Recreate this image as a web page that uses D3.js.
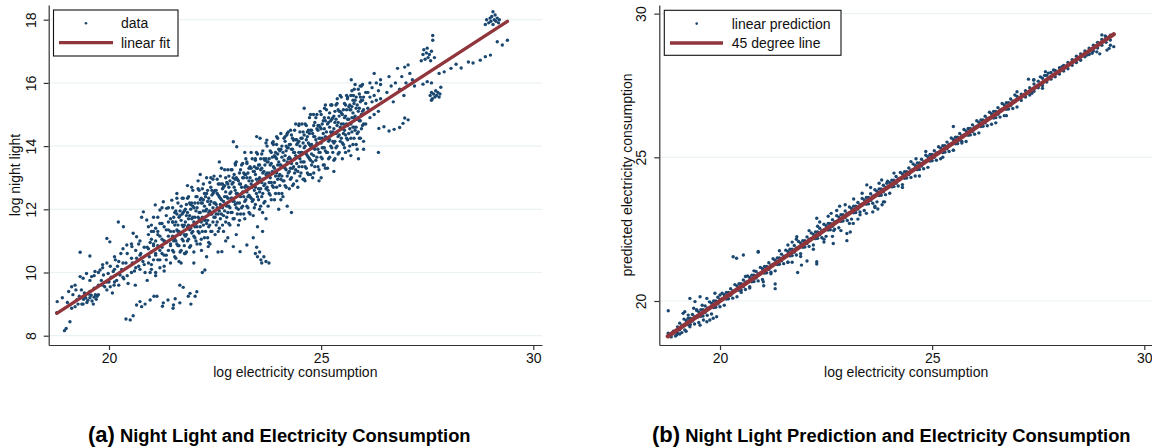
<!DOCTYPE html>
<html><head><meta charset="utf-8">
<script src="https://cdn.jsdelivr.net/npm/d3@7"></script>
<style>
body{margin:0;background:#fff;}
svg{display:block;font-family:"Liberation Sans",Arial,Helvetica,sans-serif;}
</style></head><body>
<svg id="c" width="1152" height="447"></svg>
<script>
// ---------------- DATA ----------------
const xTicks = [20, 25, 30];
const leftYTicks = [8, 10, 12, 14, 16, 18];
const rightYTicks = [20, 25, 30];

// panel (a): individual observations (log electricity, log night light)
const leftPoints = [
[18.78,9.08],[18.77,8.73],[18.95,8.16],[18.99,8.23],[19.08,8.44],[19.12,8.87],[19.2,8.92],[19.27,9.0],[19.36,9.0],[19.39,9.0],[18.9,9.2],[19.02,9.05],[19.15,9.3],[19.25,9.15],[19.3,9.25],[19.12,9.55],[19.2,9.6],[19.32,9.87],[19.39,9.82],[19.32,10.64],[19.45,9.2],[19.42,9.35],[19.35,9.45],[19.05,9.4],[19.48,9.05],[19.4,9.15],[19.22,9.45],
[19.5,9.12],[19.55,9.2],[19.6,9.1],[19.63,9.0],[19.58,9.28],[19.65,9.22],[19.7,9.15],[19.68,9.3],[19.52,9.32],[19.72,9.25],
[19.47,9.97],[19.59,9.87],[19.67,10.03],[19.79,10.08],[19.87,9.92],[19.98,9.97],[20.1,10.03],[20.26,9.92],[19.55,10.52],[19.95,11.08],[20.02,10.97],[19.75,9.6],[19.82,9.75],[19.9,9.55],[20.0,9.7],[20.05,9.85],[20.12,9.6],[20.18,9.75],[20.2,10.2],[20.3,10.1],[20.35,9.8],[20.4,10.3],[20.45,9.65],[19.85,10.25],[20.15,10.4],[20.22,11.6],[20.34,11.45],[20.42,10.87],[20.28,10.6],[19.95,9.45],[20.08,9.35],[20.4,8.53],[20.5,8.5],[20.57,8.63],
[20.54,10.82],[20.65,11.13],[20.57,11.24],[20.81,11.92],[20.77,11.75],[20.89,11.66],[20.93,11.45],[21.09,12.14],[21.2,11.98],[21.28,12.24],[21.36,12.03],[21.48,12.29],
[20.55,10.3],[20.6,10.05],[20.65,10.45],[20.7,10.2],[20.75,10.6],[20.8,10.35],[20.85,10.0],[20.9,10.8],[20.95,10.5],[21.0,10.25],[21.05,10.9],[21.1,10.6],[21.15,11.2],[21.2,10.4],[21.25,10.8],[21.3,11.0],[21.35,10.55],[21.4,11.35],[21.45,10.9],[21.5,11.6],[20.7,10.9],[21.0,11.3],[21.1,9.9],[21.3,10.2],[20.62,9.6],[20.9,9.75],
[20.65,8.97],[20.73,9.08],[20.77,8.92],[20.85,9.0],[20.97,9.13],[21.06,9.25],[21.13,9.25],[21.26,8.93],[21.28,9.04],[21.39,9.13],[21.51,8.87],[21.52,8.97],[21.67,9.04],[21.93,9.0],[21.87,9.25],[22.03,9.25],[21.75,9.53],[21.56,9.17],[21.67,9.6],[21.91,9.34],[22.07,9.39],[22.26,10.08],[22.2,10.0],[22.57,10.65],
[21.6,12.5],[21.85,12.75],[22.0,10.3],[22.15,13.1],[22.3,10.5],[22.34,10.82],[22.4,13.0],[21.7,10.3],[22.1,12.9],[21.78,10.6],[22.18,10.7],[22.38,10.9],
[22.66,10.66],[22.93,10.82],[22.93,14.14],[22.98,13.4],[23.01,13.98],[23.09,10.66],[23.25,10.87],[23.25,13.5],[23.45,13.6],[22.6,13.5],[22.75,11.0],[23.0,11.2],[23.2,13.8],[22.8,11.1],
[23.4,11.1],[23.48,10.8],[23.5,10.5],[23.58,10.4],[23.6,10.3],[23.7,10.35],[23.65,10.5],[23.77,10.3],[23.45,10.6],[23.55,10.65],[23.62,11.3],[23.5,11.45],
[23.48,14.3],[23.56,14.25],[23.72,14.19],[23.87,14.14],[23.95,14.3],[24.15,14.3],[24.19,14.35],[24.28,14.5],[24.35,14.19],[24.48,14.7],[23.7,11.7],[24.0,12.0],[24.3,11.9],[24.2,12.1],[24.05,12.3],[23.62,11.9],
[24.6,15.2],[24.82,15.0],[25.08,15.2],[25.25,15.3],[25.38,15.5],[24.62,12.9],[24.95,12.9],[25.0,13.0],[25.3,13.2],[24.75,13.1],[25.1,13.3],
[25.62,15.5],[25.71,16.1],[25.76,15.6],[25.78,15.8],[25.92,15.9],[26.05,15.7],[26.15,16.0],[26.25,16.3],[26.4,16.1],[25.88,13.6],[25.7,13.7],[26.0,13.9],[26.35,13.8],[26.36,14.56],[26.48,14.61],
[26.6,16.2],[26.8,16.46],[26.97,16.5],[27.05,16.57],[27.09,16.3],[26.55,15.7],[26.65,15.9],[26.7,15.4],[26.75,16.0],[26.85,15.8],[26.9,16.2],[26.95,15.6],[27.0,16.0],[26.6,14.48],[26.72,14.53],[26.85,14.59],[26.93,14.72],[26.97,14.89],[27.05,14.83],[27.15,16.1],[27.2,15.9],
[27.36,16.7],[27.4,16.9],[27.42,17.05],[27.45,16.75],[27.48,16.95],[27.5,17.1],[27.52,16.8],[27.55,16.9],[27.58,16.7],[27.6,17.0],[27.63,17.5],[27.63,17.35],[27.67,16.8],[27.4,15.96],[27.5,16.04],[27.6,16.0],
[27.57,15.6],[27.6,15.7],[27.62,15.5],[27.65,15.65],[27.68,15.55],[27.7,15.75],[27.72,15.6],[27.75,15.7],[27.78,15.55],[27.8,15.65],[27.82,15.86],[27.6,15.45],
[27.78,16.3],[27.9,16.35],[28.06,16.46],[28.18,16.59],[28.3,16.47],[28.47,16.66],[28.58,16.63],[28.75,16.72],[28.87,16.83],[28.99,16.88],[29.15,17.3],[29.27,17.2],[29.39,17.35],
[28.87,17.85],[28.9,18.0],[28.95,17.9],[28.98,18.05],[29.0,17.95],[29.02,18.1],[29.05,17.85],[29.08,18.0],[29.1,18.15],[29.12,17.95],[29.15,18.05],[29.18,17.9],[29.05,18.25],[29.2,18.0]
];
// panel (a): dense core of the cloud, observations grouped by log electricity value
const leftCore = [
[19.55,[9.4,9.75]],[19.65,[9.5,9.9]],[19.75,[9.3,10.0]],[19.85,[9.6,10.15]],[19.95,[9.7,10.3]],
[20.03,[9.55,10.2]],[20.13,[9.7,10.1,10.5]],[20.23,[9.6,10.35]],[20.33,[9.85,10.3,10.75]],[20.43,[9.9,10.6]],[20.53,[10.0,10.45,10.9]],[20.63,[10.15,10.7]],[20.73,[10.1,10.55,11.0]],[20.83,[10.25,10.8]],[20.93,[10.3,10.75,11.2]],[20.97,[10.0,10.95]],
[21.00,[10.1,10.65,11.05,11.5]],[21.05,[10.4,10.85,11.3,11.75]],[21.10,[10.0,10.55,11.0,11.4]],[21.15,[10.4,10.85,11.3,11.75]],[21.20,[10.15,10.7,11.15,11.55]],[21.25,[10.6,11.05,11.55,12.05]],[21.30,[10.05,10.55,11.0,11.45]],[21.35,[10.4,10.95,11.35,11.8]],[21.40,[10.7,11.15,11.6,12.05]],[21.45,[10.3,10.85,11.3,11.7]],
[21.50,[10.7,11.15,11.6,12.05]],[21.55,[10.5,11.05,11.5,11.9]],[21.60,[10.9,11.35,11.85,12.35]],[21.65,[10.35,10.85,11.3,11.75]],[21.70,[10.7,11.25,11.65,12.1]],[21.75,[11.0,11.45,11.9,12.35]],[21.80,[10.6,11.15,11.6,12.0]],[21.85,[11.0,11.45,11.9,12.35]],[21.90,[10.8,11.35,11.8,12.2]],[21.95,[11.25,11.7,12.2,12.7]],
[22.00,[10.65,11.15,11.6,12.05]],[22.05,[11.0,11.55,11.95,12.4]],[22.10,[11.3,11.75,12.2,12.65]],[22.15,[10.9,11.45,11.9,12.3]],[22.20,[11.3,11.75,12.2,12.65]],[22.25,[11.1,11.65,12.1,12.5]],[22.30,[11.55,12.0,12.5,13.0]],[22.35,[10.95,11.45,11.9,12.35]],[22.40,[11.3,11.85,12.25,12.7]],[22.45,[11.6,12.05,12.5,12.95]],
[22.50,[11.2,11.75,12.2,12.6]],[22.55,[11.6,12.05,12.5,12.95]],[22.60,[11.4,11.95,12.4,12.8]],[22.65,[11.85,12.3,12.8,13.3]],[22.70,[11.3,11.8,12.25,12.7]],[22.75,[11.6,12.15,12.55,13.0]],[22.80,[11.9,12.35,12.8,13.25]],[22.85,[11.5,12.05,12.5,12.9]],[22.90,[11.9,12.35,12.8,13.25]],[22.95,[11.7,12.25,12.7,13.1]],
[23.00,[12.05,12.5,13.0,13.5]],[23.05,[11.5,12.0,12.45,12.9]],[23.10,[11.85,12.4,12.8,13.25]],[23.15,[12.1,12.55,13.0,13.45]],[23.20,[11.7,12.25,12.7,13.1]],[23.25,[12.1,12.55,13.0,13.45]],[23.30,[11.9,12.45,12.9,13.3]],[23.35,[12.35,12.8,13.3,13.8]],[23.40,[11.8,12.3,12.75,13.2]],[23.45,[12.15,12.7,13.1,13.55]],
[23.50,[12.4,12.85,13.3,13.75]],[23.55,[12.0,12.55,13.0,13.4]],[23.60,[12.4,12.85,13.3,13.75]],[23.65,[12.2,12.75,13.2,13.6]],[23.70,[12.65,13.1,13.6,14.1]],[23.75,[12.1,12.6,13.05,13.5]],[23.80,[12.45,13.0,13.4,13.85]],[23.85,[12.75,13.2,13.65,14.1]],[23.90,[12.3,12.85,13.3,13.7]],[23.95,[12.7,13.15,13.6,14.05]],
[24.00,[12.5,13.05,13.5,13.9]],[24.05,[12.95,13.4,13.9,14.4]],[24.10,[12.4,12.9,13.35,13.8]],[24.15,[12.75,13.3,13.7,14.15]],[24.20,[13.05,13.5,13.95,14.4]],[24.25,[12.65,13.2,13.65,14.05]],[24.30,[13.0,13.45,13.9,14.35]],[24.35,[12.8,13.35,13.8,14.2]],[24.40,[13.25,13.7,14.2,14.7]],[24.45,[12.7,13.2,13.65,14.1]],
[24.50,[13.05,13.6,14.0,14.45]],[24.55,[13.35,13.8,14.25,14.7]],[24.60,[12.95,13.5,13.95,14.35]],[24.65,[13.3,13.75,14.2,14.65]],[24.70,[13.1,13.65,14.1,14.5]],[24.75,[13.55,14.0,14.5,15.0]],[24.80,[13.0,13.5,13.95,14.4]],[24.85,[13.35,13.9,14.3,14.75]],[24.90,[13.65,14.1,14.55,15.0]],[24.95,[13.25,13.8,14.25,14.65]],
[25.00,[13.65,14.1,14.55,15.0]],[25.05,[13.4,13.95,14.4,14.8]],[25.10,[13.85,14.3,14.8,15.3]],[25.15,[13.3,13.8,14.25,14.7]],[25.20,[13.65,14.2,14.6,15.05]],[25.25,[13.95,14.4,14.85,15.3]],[25.30,[13.55,14.1,14.55,14.95]],[25.35,[13.95,14.4,14.85,15.3]],[25.40,[13.75,14.3,14.75,15.15]],[25.45,[14.15,14.6,15.1,15.6]],
[25.50,[13.6,14.1,14.55,15.0]],[25.55,[13.95,14.5,14.9,15.35]],[25.60,[14.25,14.7,15.15,15.6]],[25.65,[13.85,14.4,14.85,15.25]],[25.70,[14.25,14.7,15.15,15.6]],[25.75,[14.05,14.6,15.05,15.45]],[25.80,[14.5,14.95,15.45,15.95]],[25.85,[13.9,14.4,14.85,15.3]],[25.90,[14.25,14.8,15.2,15.65]],[25.95,[14.55,15.0,15.45,15.9]],
[26.00,[14.15,14.7,15.15,15.55]],[26.05,[14.7,15.35]],[26.10,[15.2,15.7]],[26.15,[14.9,15.55]],[26.20,[15.4,15.85]],[26.25,[15.0,15.6]],[26.30,[15.45,16.0]],[26.35,[15.1,15.75]],[26.40,[15.5,15.95]]
];
// panel (a): more core observations, between the columns above
const leftCore2 = [
[21.525,[10.65,11.0,11.3,11.75]],[21.575,[10.45,11.0,11.6,11.95]],[21.625,[10.85,11.3,11.5,12.2]],[21.675,[10.65,11.2,11.8,11.95]],[21.725,[11.05,11.5,11.85,12.35]],
[21.775,[10.85,11.2,11.5,11.95]],[21.825,[10.65,11.2,11.8,12.15]],[21.875,[11.05,11.5,11.7,12.4]],[21.925,[10.85,11.4,12.0,12.15]],[21.975,[11.3,11.75,12.1,12.6]],
[22.025,[11.1,11.45,11.75,12.2]],[22.075,[10.9,11.45,12.05,12.4]],[22.125,[11.25,11.7,11.9,12.6]],[22.175,[11.05,11.6,12.2,12.35]],[22.225,[11.5,11.95,12.3,12.8]],
[22.275,[11.3,11.65,11.95,12.4]],[22.325,[11.1,11.65,12.25,12.6]],[22.375,[11.5,11.95,12.15,12.85]],[22.425,[11.3,11.85,12.45,12.6]],[22.475,[11.75,12.2,12.55,13.05]],
[22.525,[11.5,11.85,12.15,12.6]],[22.575,[11.3,11.85,12.45,12.8]],[22.625,[11.7,12.15,12.35,13.05]],[22.675,[11.5,12.05,12.65,12.8]],[22.725,[11.95,12.4,12.75,13.25]],
[22.775,[11.75,12.1,12.4,12.85]],[22.825,[11.55,12.1,12.7,13.05]],[22.875,[11.9,12.35,12.55,13.25]],[22.925,[11.7,12.25,12.85,13.0]],[22.975,[12.15,12.6,12.95,13.45]],
[23.025,[11.85,12.2,12.5,12.95]],[23.075,[11.65,12.2,12.8,13.15]],[23.125,[12.05,12.5,12.7,13.4]],[23.175,[11.85,12.4,13.0,13.15]],[23.225,[12.3,12.75,13.1,13.6]],
[23.275,[12.05,12.4,12.7,13.15]],[23.325,[11.85,12.4,13.0,13.35]],[23.375,[12.25,12.7,12.9,13.6]],[23.425,[12.05,12.6,13.2,13.35]],[23.475,[12.5,12.95,13.3,13.8]],
[23.525,[12.3,12.65,12.95,13.4]],[23.575,[12.1,12.65,13.25,13.6]],[23.625,[12.5,12.95,13.15,13.85]],[23.675,[12.25,12.8,13.4,13.55]],[23.725,[12.7,13.15,13.5,14.0]],
[23.775,[12.5,12.85,13.15,13.6]],[23.825,[12.3,12.85,13.45,13.8]],[23.875,[12.7,13.15,13.35,14.05]],[23.925,[12.5,13.05,13.65,13.8]],[23.975,[12.95,13.4,13.75,14.25]],
[24.025,[12.75,13.1,13.4,13.85]],[24.075,[12.5,13.05,13.65,14.0]],[24.125,[12.9,13.35,13.55,14.25]],[24.175,[12.7,13.25,13.85,14.0]],[24.225,[13.15,13.6,13.95,14.45]],
[24.275,[12.95,13.3,13.6,14.05]],[24.325,[12.75,13.3,13.9,14.25]],[24.375,[13.15,13.6,13.8,14.5]],[24.425,[12.9,13.45,14.05,14.2]],[24.475,[13.35,13.8,14.15,14.65]],
[24.525,[13.15,13.5,13.8,14.25]],[24.575,[12.95,13.5,14.1,14.45]],[24.625,[13.35,13.8,14.0,14.7]],[24.675,[13.15,13.7,14.3,14.45]],[24.725,[13.6,14.05,14.4,14.9]],
[24.775,[13.4,13.75,14.05,14.5]],[24.825,[13.15,13.7,14.3,14.65]],[24.875,[13.55,14.0,14.2,14.9]],[24.925,[13.35,13.9,14.5,14.65]],[24.975,[13.8,14.25,14.6,15.1]],
[25.025,[13.6,13.95,14.25,14.7]],[25.075,[13.4,13.95,14.55,14.9]],[25.125,[13.8,14.25,14.45,15.15]],[25.175,[13.6,14.15,14.75,14.9]],[25.225,[14.0,14.45,14.8,15.3]],
[25.275,[13.8,14.15,14.45,14.9]],[25.325,[13.6,14.15,14.75,15.1]],[25.375,[14.0,14.45,14.65,15.35]],[25.425,[13.8,14.35,14.95,15.1]],[25.475,[14.25,14.7,15.05,15.55]],
[25.525,[14.05,14.4,14.7,15.15]],[25.575,[13.8,14.35,14.95,15.3]],[25.625,[14.2,14.65,14.85,15.55]],[25.675,[14.0,14.55,15.15,15.3]],[25.725,[14.45,14.9,15.25,15.75]],
[25.775,[14.25,14.6,14.9,15.35]],[25.825,[14.05,14.6,15.2,15.55]],[25.875,[14.45,14.9,15.1,15.8]],[25.925,[14.25,14.8,15.4,15.55]],[25.975,[14.65,15.1,15.45,15.95]]
];
// linear fit endpoints (x, y)
const fitX = [18.77, 29.39];
const fitY = [8.71, 17.95];

// panel (b): individual observations (log electricity, predicted)
const rightPoints = [
[18.78,19.66],[18.78,18.88],[18.82,18.82],[18.98,18.82],[18.85,18.75],[18.9,18.95],[19.06,19.05],[19.17,18.99],[19.29,19.1],[19.13,19.57],[19.17,19.63],[19.25,19.51],[19.05,18.85],[18.95,18.78],
[19.29,20.09],[19.41,19.98],[19.53,20.15],[19.69,20.09],[19.88,20.27],[20.0,20.21],[19.92,19.92],[19.53,19.16],[19.61,19.34],[19.69,19.28],[19.76,19.34],[19.84,19.4],[19.92,19.45],[19.49,19.45],[19.58,19.85],[19.45,19.7],[19.38,19.75],
[20.31,21.54],[20.39,21.49],[20.55,21.6],[20.9,21.72],[20.5,20.3],[20.7,20.5],[20.8,21.05],[20.6,20.85],[20.9,21.7],
[21.02,20.67],[21.03,20.53],[21.3,20.59],[21.3,20.43],[21.83,20.99],[21.92,21.25],[21.4,21.75],[21.6,21.35],[21.2,20.95],[21.7,22.05],[21.81,22.24],
[22.05,21.39],[22.28,21.29],[22.28,21.37],[22.28,22.88],[22.67,22.0],[22.99,22.1],[22.99,22.35],[22.62,23.05],[22.82,23.3],[22.3,22.6],[22.45,22.15],[22.68,22.45],
[23.07,22.4],[23.14,22.7],[23.46,24.04],[23.81,24.21],[23.93,24.1],[23.6,23.1],[23.88,23.45],[23.3,23.0],[23.72,23.2],[23.82,23.35],[23.65,23.3],
[22.1,22.45],[22.2,21.8],[22.35,22.75],[22.45,22.05],[22.55,22.95],[22.65,22.25],[22.75,23.15],[22.85,22.45],[22.95,23.35],[23.05,22.7],[23.15,23.55],[23.25,22.85],[23.35,23.75],[23.45,23.05],[23.55,23.95],[23.65,23.25],[23.75,24.1],[23.85,23.45],[21.6,21.95],[21.7,21.35],[21.8,22.15],[21.9,21.55],[24.1,24.45],[24.3,23.95],[24.5,24.85],[24.7,24.35],
[24.62,24.95],[24.85,25.2],[25.5,26.07],[25.5,25.25],[25.7,25.55],[25.25,25.0],[27.0,27.28],[26.5,26.2],[26.75,26.45],
[27.27,27.72],[27.39,27.69],[27.35,27.23],[27.67,27.98],[27.74,27.93],[27.86,28.04],[28.06,28.15],[27.4,27.7],[27.6,27.4],[27.55,27.8],[27.65,27.85],
[28.65,28.56],[28.77,28.62],[28.88,28.67],[29.0,29.26],[29.08,29.22],[29.12,28.73],[29.17,28.79],[29.28,28.85],[29.2,28.9],[28.95,28.6]
];
// panel (b): dense band along the diagonal, [log electricity, predicted, predicted]
const rightBand = [
[19.00,18.88,19.10],[19.05,19.00,19.23],[19.10,18.90,19.15],[19.15,19.17,19.37],[19.20,18.95,19.32],[19.25,19.17,19.40],[19.30,19.18,19.40],[19.35,19.30,19.53],[19.40,19.20,19.45],[19.45,19.47,19.67],
[19.50,19.25,19.62],[19.55,19.47,19.70],[19.60,19.48,19.70],[19.65,19.60,19.83],[19.70,19.50,19.75],[19.75,19.77,19.97],[19.80,19.55,19.92],[19.85,19.77,20.00],[19.90,19.78,20.00],[19.95,19.90,20.13],
[20.00,19.80,20.05],[20.05,20.07,20.27],[20.10,19.85,20.22],[20.15,20.07,20.30],[20.20,20.08,20.30],[20.25,20.20,20.43],[20.30,20.10,20.35],[20.35,20.37,20.57],[20.40,20.15,20.52],[20.45,20.37,20.60],
[20.50,20.38,20.60],[20.55,20.50,20.73],[20.60,20.40,20.65],[20.65,20.67,20.87],[20.70,20.45,20.82],[20.75,20.67,20.90],[20.80,20.68,20.90],[20.85,20.80,21.03],[20.90,20.70,20.95],[20.95,20.97,21.17],
[21.00,20.75,21.12],[21.05,20.97,21.20],[21.10,20.98,21.20],[21.15,21.10,21.33],[21.20,21.00,21.25],[21.25,21.27,21.47],[21.30,21.05,21.42],[21.35,21.27,21.50],[21.40,21.28,21.50],[21.45,21.40,21.63],
[21.50,21.30,21.55],[21.55,21.57,21.77],[21.60,21.35,21.72],[21.65,21.57,21.80],[21.70,21.58,21.80],[21.75,21.70,21.93],[21.80,21.60,21.85],[21.85,21.87,22.07],[21.90,21.65,22.02],[21.95,21.87,22.10],
[22.00,21.88,22.10],[22.05,22.00,22.23],[22.10,21.90,22.15],[22.15,22.17,22.37],[22.20,21.95,22.32],[22.25,22.17,22.40],[22.30,22.18,22.40],[22.35,22.30,22.53],[22.40,22.20,22.45],[22.45,22.47,22.67],
[22.50,22.25,22.62],[22.55,22.47,22.70],[22.60,22.48,22.70],[22.65,22.60,22.83],[22.70,22.50,22.75],[22.75,22.77,22.97],[22.80,22.55,22.92],[22.85,22.77,23.00],[22.90,22.78,23.00],[22.95,22.90,23.13],
[23.00,22.80,23.05],[23.05,23.07,23.27],[23.10,22.85,23.22],[23.15,23.07,23.30],[23.20,23.08,23.30],[23.25,23.20,23.43],[23.30,23.10,23.35],[23.35,23.37,23.57],[23.40,23.15,23.52],[23.45,23.37,23.60],
[23.50,23.38,23.60],[23.55,23.50,23.73],[23.60,23.40,23.65],[23.65,23.67,23.87],[23.70,23.45,23.82],[23.75,23.67,23.90],[23.80,23.68,23.90],[23.85,23.80,24.03],[23.90,23.70,23.95],[23.95,23.97,24.17],
[24.00,23.75,24.12],[24.05,23.97,24.20],[24.10,23.98,24.20],[24.15,24.10,24.33],[24.20,24.00,24.25],[24.25,24.27,24.47],[24.30,24.05,24.42],[24.35,24.27,24.50],[24.40,24.28,24.50],[24.45,24.40,24.63],
[24.50,24.30,24.55],[24.55,24.57,24.77],[24.60,24.35,24.72],[24.65,24.57,24.80],[24.70,24.58,24.80],[24.75,24.70,24.93],[24.80,24.60,24.85],[24.85,24.87,25.07],[24.90,24.65,25.02],[24.95,24.87,25.10],
[25.00,24.88,25.10],[25.05,25.00,25.23],[25.10,24.90,25.15],[25.15,25.17,25.37],[25.20,24.95,25.32],[25.25,25.17,25.40],[25.30,25.18,25.40],[25.35,25.30,25.53],[25.40,25.20,25.45],[25.45,25.47,25.67],
[25.50,25.25,25.62],[25.55,25.47,25.70],[25.60,25.48,25.70],[25.65,25.60,25.83],[25.70,25.50,25.75],[25.75,25.77,25.97],[25.80,25.55,25.92],[25.85,25.77,26.00],[25.90,25.78,26.00],[25.95,25.90,26.13],
[26.00,25.80,26.05],[26.05,26.07,26.27],[26.10,25.85,26.22],[26.15,26.07,26.30],[26.20,26.08,26.30],[26.25,26.20,26.43],[26.30,26.10,26.35],[26.35,26.37,26.57],[26.40,26.15,26.52],[26.45,26.37,26.60],
[26.50,26.38,26.60],[26.55,26.50,26.73],[26.60,26.40,26.65],[26.65,26.67,26.87],[26.70,26.45,26.82],[26.75,26.67,26.90],[26.80,26.68,26.90],[26.85,26.80,27.03],[26.90,26.70,26.95],[26.95,26.97,27.17],
[27.00,26.75,27.12],[27.10,26.98,27.20],[27.20,27.10,27.32],[27.30,27.17,27.42],[27.40,27.30,27.55],[27.50,27.42,27.65],[27.60,27.50,27.75],[27.70,27.62,27.85],[27.80,27.72,27.95],[27.90,27.80,28.02],
[28.00,27.90,28.12],[28.10,28.00,28.20],[28.20,28.08,28.30],[28.30,28.20,28.40],[28.40,28.30,28.52],[28.50,28.38,28.60],[28.60,28.50,28.70],[28.70,28.58,28.80],[28.80,28.70,28.90],[28.90,28.80,29.00],
[29.00,28.90,29.10],[29.10,29.00,29.18],[29.20,29.08,29.25]
];
// 45 degree line endpoints
const diagX = [18.77, 29.28];
const diagY = [18.77, 29.28];

// assemble point tables from the arrays above
const expandCols = cols => cols.flatMap(([xv, ys]) => ys.map(yv => [xv, yv]));
const leftAll = leftPoints.concat(expandCols(leftCore), expandCols(leftCore2));
const rightAll = rightPoints.concat(rightBand.flatMap(([xv, a, b]) => [[xv, a], [xv, b]]));

// ---------------- DRAW ----------------
const svg = d3.select("#c");
const DOT = "#1a476f", LINE = "#90353b", GRID = "#eaf2f3", AXIS = "#333";

function panel(cfg) {
  const g = svg.append("g");
  const x = d3.scaleLinear().domain(cfg.xDomain).range(cfg.xRange);
  const y = d3.scaleLinear().domain(cfg.yDomain).range(cfg.yRange);
  const left = cfg.xRange[0], right = cfg.xRange[1], bottom = cfg.yRange[0], top = cfg.yRange[1];

  g.append("g").selectAll("line").data(cfg.yTicks).join("line")
    .attr("x1", left).attr("x2", right)
    .attr("y1", d => y(d)).attr("y2", d => y(d))
    .attr("stroke", GRID).attr("stroke-width", 1.2);

  g.append("g").selectAll("circle").data(cfg.points).join("circle")
    .attr("cx", d => x(d[0])).attr("cy", d => y(d[1]))
    .attr("r", 1.7).attr("fill", DOT);

  const lineData = cfg.lineX.map((v, i) => [v, cfg.lineY[i]]);
  g.append("path").datum(lineData)
    .attr("d", d3.line().x(d => x(d[0])).y(d => y(d[1])))
    .attr("fill", "none").attr("stroke", LINE)
    .attr("stroke-width", cfg.lineW).attr("stroke-linecap", "round");

  const xa = g.append("g").attr("transform", `translate(0,${bottom})`)
    .call(d3.axisBottom(x).tickValues(xTicks).tickSize(5).tickSizeOuter(0).tickPadding(3));
  const ya = g.append("g").attr("transform", `translate(${left},0)`)
    .call(d3.axisLeft(y).tickValues(cfg.yTicks).tickSize(5).tickSizeOuter(0));
  [xa, ya].forEach(a => {
    a.attr("font-family", null).attr("font-size", null);
    a.select(".domain").attr("stroke", AXIS).attr("stroke-width", 1.2);
    a.selectAll(".tick line").attr("stroke", AXIS).attr("stroke-width", 1.2);
    a.selectAll(".tick text").attr("fill", "#111").style("font-size", "14px");
  });
  ya.selectAll(".tick text")
    .attr("x", null).attr("dy", "0.36em").attr("text-anchor", "middle")
    .attr("transform", `translate(${cfg.yLabelOffset},0) rotate(-90)`);

  g.append("text").attr("x", (left + cfg.titleRight) / 2).attr("y", 377)
    .attr("text-anchor", "middle").style("font-size", "14px").attr("fill", "#111")
    .text(cfg.xTitle);
  g.append("text").attr("transform", `translate(${cfg.yTitleX},${(top + bottom) / 2}) rotate(-90)`)
    .attr("dy", "0.3em").attr("text-anchor", "middle").style("font-size", "14px").attr("fill", "#111")
    .text(cfg.yTitle);

  const L = cfg.legend;
  g.append("rect").attr("x", L.x).attr("y", L.y).attr("width", L.w).attr("height", L.h)
    .attr("fill", "#fff").attr("stroke", "#111").attr("stroke-width", 1.1);
  g.append("circle").attr("cx", L.x + L.dotDx).attr("cy", L.y + 13.3).attr("r", 1.3).attr("fill", DOT);
  g.append("line").attr("x1", L.x + L.lineDx0).attr("x2", L.x + L.lineDx1)
    .attr("y1", L.y + 32.7).attr("y2", L.y + 32.7).attr("stroke", LINE).attr("stroke-width", 3.3);
  g.append("text").attr("x", L.x + L.textDx).attr("y", L.y + 18.3).style("font-size", "14px").attr("fill", "#111").text(L.labels[0]);
  g.append("text").attr("x", L.x + L.textDx).attr("y", L.y + 37.8).style("font-size", "14px").attr("fill", "#111").text(L.labels[1]);

  const cap = svg.append("text").attr("x", cfg.capX).attr("y", 442).attr("fill", "#000").attr("font-weight", "bold");
  cap.append("tspan").style("font-size", "22px").text(cfg.capTag);
  cap.append("tspan").style("font-size", "18.35px").text(" " + cfg.caption);
}

panel({
  points: leftAll, lineX: fitX, lineY: fitY, lineW: 3.3,
  xDomain: [18.579, 30.205], xRange: [48.7, 542],
  yDomain: [7.706, 18.465], yRange: [345, 5],
  yTicks: leftYTicks, yLabelOffset: -17.7, titleRight: 542,
  xTitle: "log electricity consumption", yTitle: "log night light", yTitleX: 15.5,
  legend: {x: 53.5, y: 10, w: 124.5, h: 46, dotDx: 32.5, lineDx0: 5.5, lineDx1: 59.5, textDx: 67.5,
           labels: ["data", "linear fit"]},
  capX: 88, capTag: "(a)", caption: "Night Light and Electricity Consumption"
});

panel({
  points: rightAll, lineX: diagX, lineY: diagY, lineW: 4.3,
  xDomain: [18.569, 30.205], xRange: [659.3, 1153],
  yDomain: [18.469, 30.30], yRange: [345, 5],
  yTicks: rightYTicks, yLabelOffset: -18.3, titleRight: 1153,
  xTitle: "log electricity consumption", yTitle: "predicted electricity consumption", yTitleX: 628,
  legend: {x: 664.3, y: 10.3, w: 176.7, h: 45, dotDx: 32.4, lineDx0: 5.7, lineDx1: 58.7, textDx: 67.4,
           labels: ["linear prediction", "45 degree line"]},
  capX: 652, capTag: "(b)", caption: "Night Light Prediction and Electricity Consumption"
});
</script>
</body></html>
